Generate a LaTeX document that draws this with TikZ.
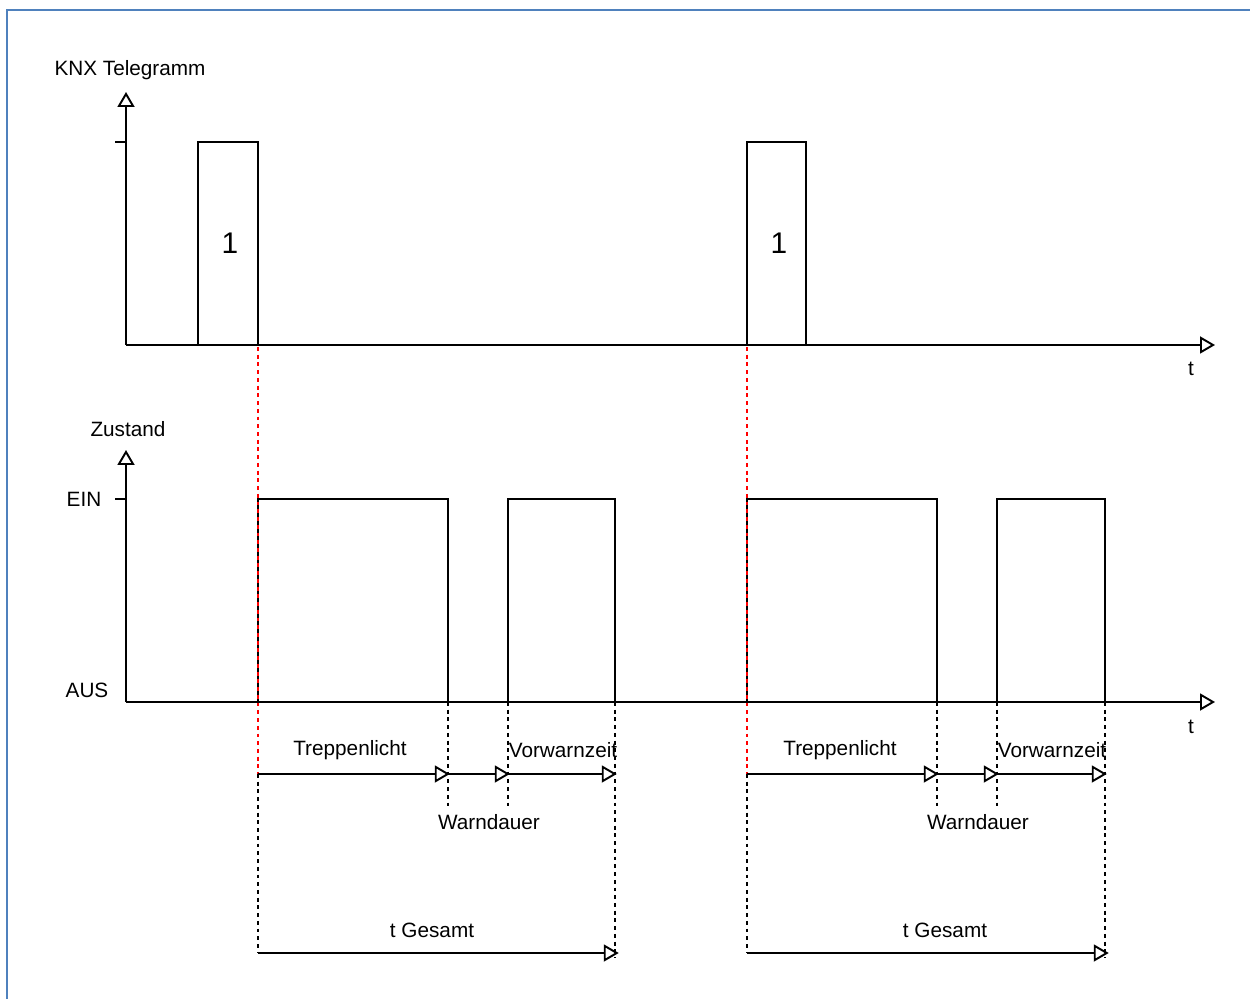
\documentclass[tikz,border=0pt]{standalone}
\usepackage{fontspec}
\setmainfont{Liberation Sans}
\usetikzlibrary{arrows.meta}
\definecolor{frameblue}{RGB}{79,129,189}
\tikzset{
  sig/.style={line width=1.1pt, line join=miter},
  ax/.style={line width=1.1pt, -{Triangle[open, length=0.3cm, width=0.34cm, line width=1.1pt]}},
  dim/.style={line width=1.1pt, -{Triangle[open, length=0.3cm, width=0.34cm, line width=1.1pt]}, shorten >=-1pt},
  dotline/.style={line width=1pt, dash pattern=on 2.2pt off 2.2pt},
  reddot/.style={dotline, red},
  lbl/.style={font=\fontsize{11.8pt}{13pt}\selectfont, inner sep=0pt},
  big/.style={font=\fontsize{17pt}{19pt}\selectfont, inner sep=0pt}
}
\begin{document}
\begin{tikzpicture}[x=0.02cm, y=-0.02cm]
\useasboundingbox (0,0) rectangle (1250,999);
% frame
\draw[frameblue, line width=1.2pt] (7,999) -- (7,10) -- (1250,10);

% ---------- top plot ----------
\coordinate (o1) at (126,345);
\coordinate (y1) at (126,92);
\coordinate (x1) at (1215,345);
\draw[ax] (o1) -- (y1);
\draw[ax] (o1) -- (x1);
\draw[sig] (115,142) -- (126,142);
\node[lbl] (knx) at (130,70) {KNX Telegramm};
\node[lbl] (t1) at (1191,369) {t};
\draw[sig] (198,345) -- (198,142) -- (258,142) -- (258,345);
\node[big] (p1) at (230,243) {1};
\draw[sig] (747,345) -- (747,142) -- (806,142) -- (806,345);
\node[big] (p2) at (779,243) {1};

% ---------- bottom plot ----------
\coordinate (o2) at (126,702);
\coordinate (y2) at (126,450);
\coordinate (x2) at (1215,702);
\draw[ax] (o2) -- (y2);
\draw[ax] (o2) -- (x2);
\draw[sig] (115,499) -- (126,499);
\node[lbl] (zu) at (128,429) {Zustand};
\node[lbl] (ein) at (84,499) {EIN};
\node[lbl] (aus) at (87,690) {AUS};
\node[lbl] (t2) at (1191,727) {t};
\draw[sig] (258,702) -- (258,499) -- (448,499) -- (448,702);
\draw[sig] (508,702) -- (508,499) -- (615,499) -- (615,702);
\draw[sig] (747,702) -- (747,499) -- (937,499) -- (937,702);
\draw[sig] (997,702) -- (997,499) -- (1105,499) -- (1105,702);

% red dotted guides
\draw[reddot] (258,347) -- (258,774);
\draw[reddot] (747,347) -- (747,774);
% black dotted guides
\draw[dotline] (258,774) -- (258,953);
\draw[dotline] (747,774) -- (747,953);
\draw[dotline] (448,702) -- (448,808);
\draw[dotline] (508,702) -- (508,808);
\draw[dotline] (615,702) -- (615,958);
\draw[dotline] (937,702) -- (937,808);
\draw[dotline] (997,702) -- (997,808);
\draw[dotline] (1105,702) -- (1105,958);

% time spans, first cycle
\coordinate (a0) at (258,774);
\coordinate (a1) at (448,774);
\coordinate (a2) at (508,774);
\coordinate (a3) at (615,774);
\draw[dim] (a0) -- (a1);
\draw[dim] (a1) -- (a2);
\draw[dim] (a2) -- (a3);
\node[lbl] (tr1) at (350,750) {Treppenlicht};
\node[lbl] (vw1) at (563,750) {Vorwarnzeit};
\node[lbl] (wd1) at (489,822) {Warndauer};
\coordinate (g0) at (258,953);
\coordinate (g1) at (617,953);
\draw[dim] (g0) -- (g1);
\node[lbl] (tg1) at (432,930) {t Gesamt};

% time spans, second cycle
\coordinate (b0) at (747,774);
\coordinate (b1) at (937,774);
\coordinate (b2) at (997,774);
\coordinate (b3) at (1105,774);
\draw[dim] (b0) -- (b1);
\draw[dim] (b1) -- (b2);
\draw[dim] (b2) -- (b3);
\node[lbl] (tr2) at (840,750) {Treppenlicht};
\node[lbl] (vw2) at (1052,750) {Vorwarnzeit};
\node[lbl] (wd2) at (978,822) {Warndauer};
\coordinate (h0) at (747,953);
\coordinate (h1) at (1107,953);
\draw[dim] (h0) -- (h1);
\node[lbl] (tg2) at (945,930) {t Gesamt};
\end{tikzpicture}
\end{document}
